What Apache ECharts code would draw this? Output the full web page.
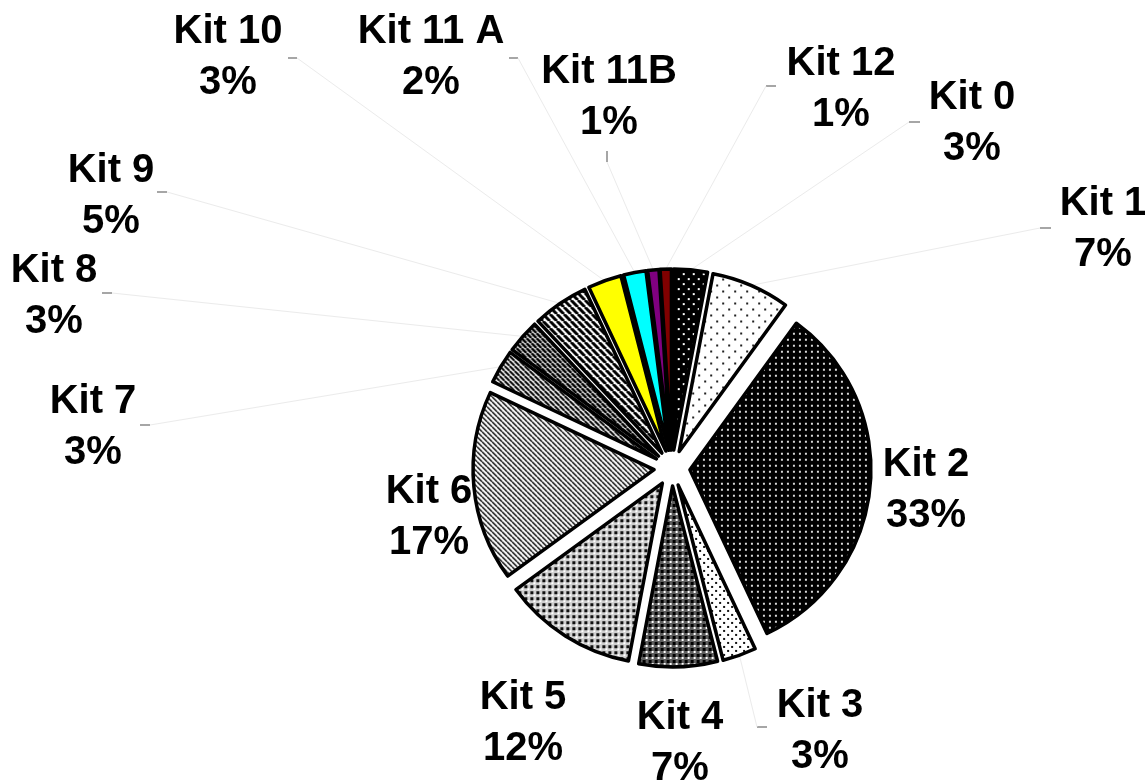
<!DOCTYPE html>
<html>
<head>
<meta charset="utf-8">
<script src="https://cdn.jsdelivr.net/npm/echarts@6/dist/echarts.min.js"></script>
<style>
  html, body { margin: 0; padding: 0; background: #fff; }
  #chart { width: 1145px; height: 781px; }
</style>
</head>
<body>
<div id="chart"></div>
<script>
// kits in clockwise order from 12 o'clock
const kitNames = ['Kit 0', 'Kit 1', 'Kit 2', 'Kit 3', 'Kit 4', 'Kit 5', 'Kit 6',
  'Kit 7', 'Kit 8', 'Kit 9', 'Kit 10', 'Kit 11 A', 'Kit 11B', 'Kit 12']
const kitShares = [3, 7, 33, 3, 7, 12, 17, 3, 3, 5, 3, 2, 1, 1]

// where each label block sits (centre) and where its leader line ends
const labelCenters = [[972, 123], [1103, 229], [926, 490], [820, 731], [680, 743], [523, 723], [429, 517],
  [93, 427], [54, 296], [111, 196], [228, 57], [431, 57], [609, 97], [841, 89]]
const lineEnds = [[909, 122], [1040, 228], null, [757, 727], null, null, null,
  [150, 425], [112, 293], [167, 192], [297, 58], [518, 58], [607, 162], [766, 86]]
// the little grey ticks next to the labels
const ticks = [[909, 122, 920, 122], [1040, 228, 1051, 228], [757, 727, 767, 727], [140, 425, 150, 425],
  [102, 293, 112, 293], [157, 192, 167, 192], [288, 58, 297, 58], [509, 58, 518, 58],
  [607, 151, 607, 162], [766, 86, 776, 86]]

const cx = 672, cy = 468, R = 181, offset = 18

function tile(size, bg, draw) {
  const c = document.createElement('canvas')
  c.width = c.height = size
  const ctx = c.getContext('2d')
  ctx.fillStyle = bg
  ctx.fillRect(0, 0, size, size)
  draw(ctx, size)
  return { image: c, repeat: 'repeat' }
}
const dots = (bg, fg, size, d, stagger) => tile(size, bg, (ctx, s) => {
  ctx.fillStyle = fg
  ctx.fillRect(1, 1, d, d)
  if (stagger) ctx.fillRect(1 + s / 2, 1 + s / 2, d, d)
})
const stripes = (size, w) => tile(size, '#fff', (ctx, s) => {
  ctx.strokeStyle = '#000'
  ctx.lineWidth = w
  ctx.beginPath()
  for (let k = -1; k <= 1; k++) {
    ctx.moveTo(k * s, 0)
    ctx.lineTo(k * s + s, s)
  }
  ctx.stroke()
})
const checker = (bg, dark, light) => tile(6, bg, (ctx) => {
  ctx.fillStyle = dark
  ctx.fillRect(0, 0, 3, 3)
  ctx.fillStyle = light
  ctx.fillRect(3, 3, 2, 2)
})

const fills = [
  dots('#000', '#fff', 10, 2, true),
  dots('#fff', '#222', 12, 2, true),
  dots('#000', '#d8d8d8', 6, 2, false),
  dots('#fff', '#111', 8, 2, true),
  checker('#5e5e5e', '#000', '#fff'),
  checker('#cfcfcf', '#111', '#fff'),
  stripes(5, 1.4),
  stripes(5, 2),
  stripes(5, 2.6),
  stripes(7, 3),
  '#ffff00',
  '#00ffff',
  '#800080',
  '#800000'
]

const total = kitShares.reduce((a, b) => a + b, 0)
let cum = 0
const edgePoints = kitShares.map(v => {
  const t = (cum + v / 2) / total * Math.PI * 2
  cum += v
  return [cx + (R + offset) * Math.sin(t), cy - (R + offset) * Math.cos(t)]
})

// exploded slices (no labels: the select state would pin them)
const sliceData = kitNames.map((name, i) => ({
  name,
  value: kitShares[i],
  selected: true,
  itemStyle: { color: fills[i] }
}))
// same pie, invisible, only carrying the labels
const labelData = kitNames.map((name, i) => ({
  name,
  value: kitShares[i],
  labelLine: { show: lineEnds[i] !== null }
}))

const chart = echarts.init(document.getElementById('chart'))
chart.setOption({
  backgroundColor: '#fff',
  animation: false,
  series: [{
    type: 'pie',
    center: [cx, cy],
    radius: [0, R],
    startAngle: 90,
    clockwise: true,
    selectedMode: 'multiple',
    selectedOffset: offset,
    itemStyle: { borderColor: '#000', borderWidth: 3.5 },
    emphasis: { scale: false, disabled: true },
    label: { show: false },
    labelLine: { show: false },
    silent: true,
    data: sliceData
  }, {
    type: 'pie',
    center: [cx, cy],
    radius: [0, R],
    startAngle: 90,
    clockwise: true,
    avoidLabelOverlap: false,
    percentPrecision: 0,
    silent: true,
    itemStyle: { color: 'rgba(0,0,0,0)', borderWidth: 0 },
    emphasis: { scale: false, disabled: true },
    label: {
      show: true,
      position: 'outside',
      formatter: '{b}\n{d}%',
      color: '#000',
      fontSize: 40,
      lineHeight: 51,
      fontWeight: 'bold',
      fontFamily: '"Liberation Sans", Arial, sans-serif'
    },
    labelLine: { show: true, lineStyle: { color: '#ebebeb', width: 1 } },
    labelLayout: (params) => {
      const i = params.dataIndex
      const res = { x: labelCenters[i][0], y: labelCenters[i][1], align: 'center', verticalAlign: 'middle' }
      if (lineEnds[i]) res.labelLinePoints = [edgePoints[i], lineEnds[i], lineEnds[i]]
      return res
    },
    data: labelData
  }],
  graphic: ticks.map(t => ({
    type: 'line',
    shape: { x1: t[0], y1: t[1], x2: t[2], y2: t[3] },
    style: { stroke: '#888', lineWidth: 1.5 }
  }))
})
</script>
</body>
</html>
